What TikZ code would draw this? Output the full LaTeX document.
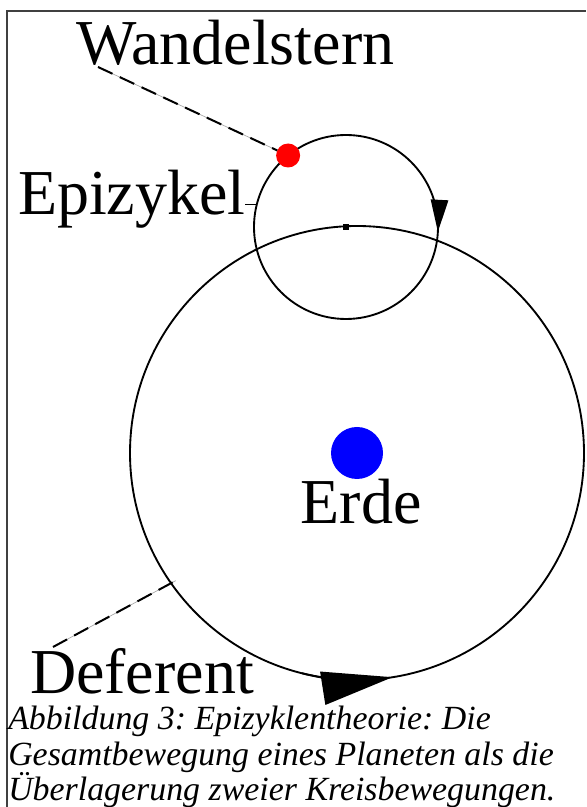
\documentclass[tikz,border=0pt]{standalone}
\usepackage{fontspec}
\setmainfont{Liberation Serif}
\usetikzlibrary{arrows.meta, positioning}
\tikzset{
  bigtext/.style = {font=\fontsize{48}{52}\selectfont, inner sep=0pt, outer sep=0pt},
  orbit/.style = {circle, draw=black, line width=1.4pt, inner sep=0pt, outer sep=0pt},
  body/.style = {circle, inner sep=0pt, outer sep=0pt},
  leader/.style = {draw=black, line width=1.5pt, dash pattern=on 12pt off 6pt, preaction={draw=black!35, line width=0.5pt, solid}},
  motion/.style = {line width=1.4pt},
  frame/.style = {draw=black!75, line width=1.4pt},
  caption/.style = {font=\frenchspacing\itshape\fontsize{25.4}{26.6}\selectfont, align=left, inner sep=0pt, anchor=north west}
}

\begin{document}
\begin{tikzpicture}[x=0.75pt, y=0.75pt]
\useasboundingbox (0,0) rectangle (586,807);

% Frame
\draw[frame] (7,0) |- (586,796);

% Earth and deferent
\node[body, fill=blue, minimum size=39pt] (earth) at (357,354) {};
\node[orbit, minimum size=340.5pt] (deferent) at (earth) {};
\node[bigtext, below=0pt of earth, xshift=3pt] (erde) {Erde};

% Epicycle on the deferent
\coordinate (epicenter) at (346,580);
\node[orbit, minimum size=138pt] (epicycle) at (epicenter) {};
\node[body, fill=black, minimum width=5pt, minimum height=4pt, rectangle] (hub) at (epicenter) {};
\node[body, fill=red, minimum size=18pt] (planet) at (epicycle.129) {};

% Labels
\node[bigtext, anchor=base west] (wandelstern) at (76,742) {Wandelstern};
\node[bigtext, anchor=base west] (epizykel) at (18,592) {Epizykel};
\node[bigtext, anchor=base west] (deferentlabel) at (30,113) {Deferent};

\coordinate (wtip) at (98,740);
\coordinate (dtip) at (53,160);

% Leaders
\draw[leader] (wtip) -- (planet);
\draw[leader, shorten >=-4pt] (dtip) -- (deferent.215);
\draw[line width=1pt] (epicycle.166) -- (epicycle.166 -| epizykel.east);

% Directions of motion
\draw[motion, -{Triangle[length=24pt, width=13pt]}] ([shift={(17:69pt)}]epicenter) arc[start angle=17, end angle=-3, radius=69pt];
\draw[motion, -{Triangle[length=53pt, width=25pt]}] ([shift={(256:170.25pt)}]earth) arc[start angle=256, end angle=279, radius=170.25pt];

% Caption
\node[caption] (abb) at (8,101) {Abbildung 3: Epizyklentheorie: Die\\Gesamtbewegung eines Planeten als die\\Überlagerung zweier Kreisbewegungen.};

\end{tikzpicture}
\end{document}
